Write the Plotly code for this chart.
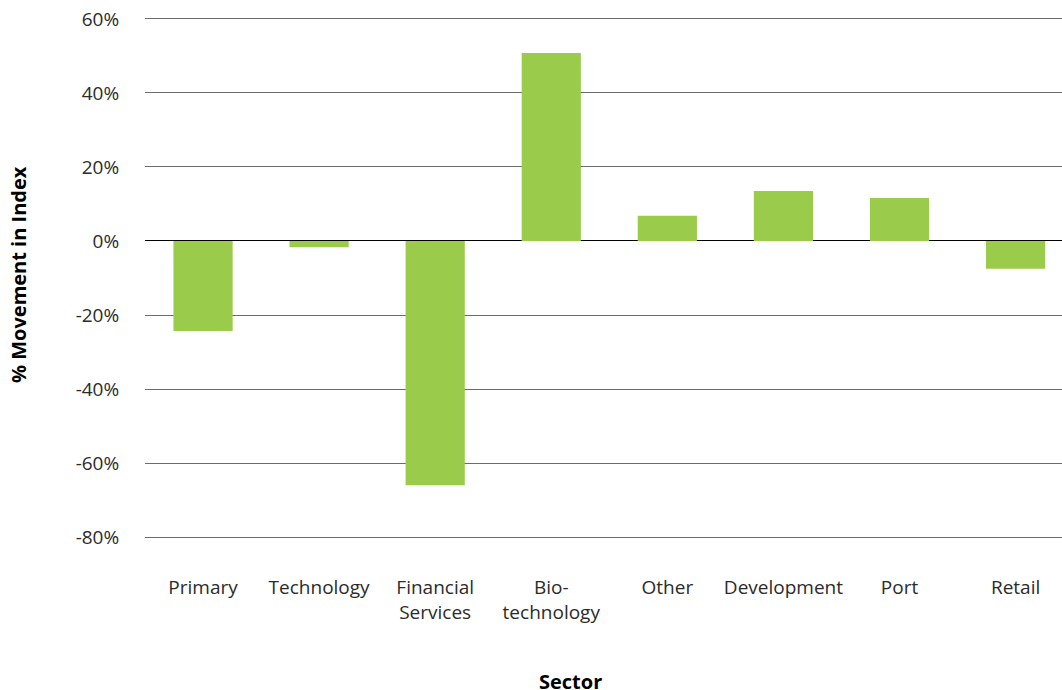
import plotly.graph_objects as go

sectors = ["Primary", "Technology", "Financial<br>Services", "Bio-<br>technology",
           "Other", "Development", "Port", "Retail"]
movement = [-24.3, -1.7, -66.0, 50.8, 6.8, 13.5, 11.6, -7.5]
y_ticks = [-80, -60, -40, -20, 0, 20, 40, 60]
y_labels = [f"{v}%" for v in y_ticks]

BAR_GREEN = "#9bcb4a"
FONT = "Open Sans"

fig = go.Figure()
fig.add_trace(go.Bar(x=sectors, y=movement, marker_color=BAR_GREEN, marker_line_width=0))

fig.update_layout(
    width=1062, height=690,
    margin=dict(l=145, r=0, t=17, b=151),
    plot_bgcolor="white", paper_bgcolor="white",
    bargap=0.49,
    showlegend=False,
    font=dict(family=FONT, size=19, color="#2b2b2b"),
)
# the last category runs slightly past the right edge in the original
fig.update_xaxes(
    range=[-0.5, 7.4],
    showgrid=False, showline=False, zeroline=False,
    ticks="outside", ticklen=31, tickcolor="rgba(0,0,0,0)",
)
fig.update_yaxes(
    range=[-80.5, 60.5], tickvals=y_ticks, ticktext=y_labels,
    showgrid=True, gridcolor="#6b6b6b", gridwidth=1,
    zeroline=True, zerolinecolor="#000000", zerolinewidth=1,
    ticks="outside", ticklen=21, tickcolor="rgba(0,0,0,0)",
    showline=False,
)
fig.add_annotation(
    text="<b>% Movement in Index</b>", textangle=-90,
    xref="paper", yref="paper", x=(18 - 145) / 917, y=(539 - 275) / 522,
    xanchor="center", yanchor="middle",
    showarrow=False, font=dict(family=FONT, size=20, color="#000000"),
)
fig.add_annotation(
    text="<b>Sector</b>",
    xref="paper", yref="paper", x=(570 - 145) / 917, y=(539 - 682) / 522,
    xanchor="center", yanchor="middle",
    showarrow=False, font=dict(family=FONT, size=20, color="#000000"),
)

# drop the default 8px body margin so the figure fills the window exactly
fig.write_html("out.html", config={"displayModeBar": False},
               post_script="document.body.style.margin='0';")
